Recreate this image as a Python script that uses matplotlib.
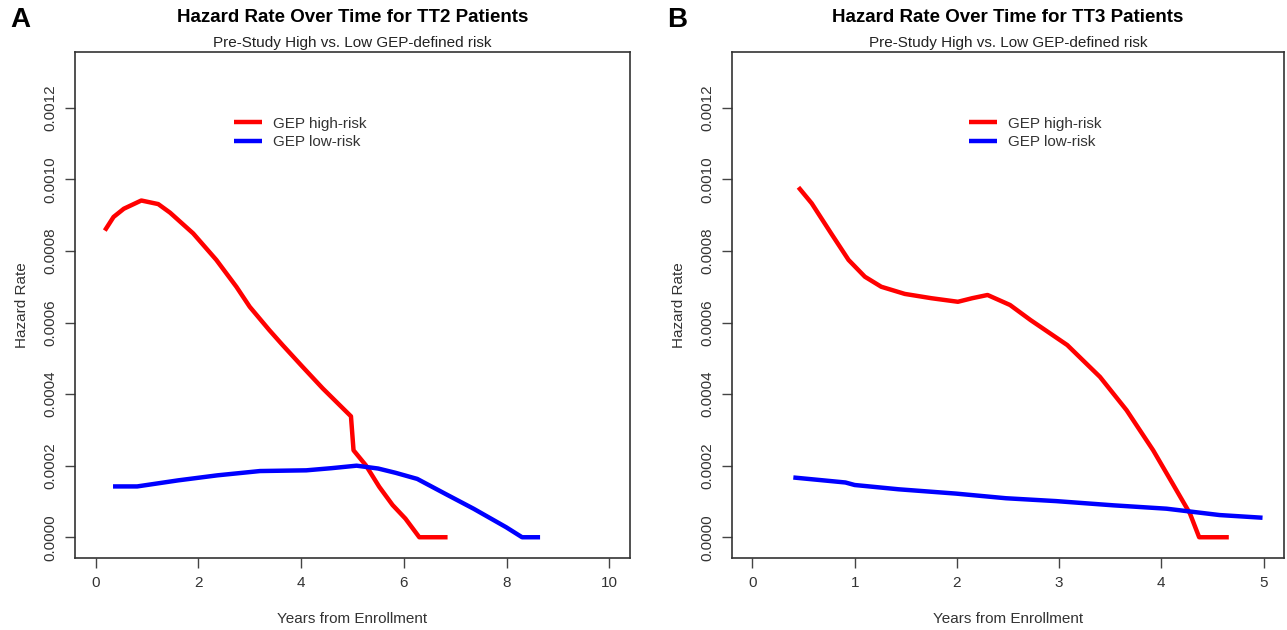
import matplotlib
matplotlib.use("Agg")
import matplotlib.pyplot as plt

plt.rcParams['font.family'] = ['Liberation Sans', 'DejaVu Sans']

# TT2 panel (A)
tt2_high_x = [0.18, 0.35, 0.55, 0.89, 1.22, 1.45, 1.90, 2.35, 2.74, 3.00, 3.38, 3.64, 4.03,
              4.42, 4.97, 5.02, 5.26, 5.52, 5.78, 6.03, 6.30, 6.85]
tt2_high_y = [0.000857, 0.000895, 0.000918, 0.000941, 0.000931, 0.000907, 0.000849, 0.000775,
              0.000700, 0.000644, 0.000579, 0.000537, 0.000476, 0.000416, 0.000338, 0.000243,
              0.000201, 0.000141, 0.000090, 0.000052, 0.0, 0.0]
tt2_low_x = [0.34, 0.81, 1.61, 2.37, 3.20, 4.10, 4.59, 5.08, 5.50, 5.84, 6.26, 6.81, 7.36,
             7.99, 8.30, 8.65]
tt2_low_y = [0.000142, 0.000142, 0.000159, 0.000173, 0.000185, 0.000187, 0.000193, 0.000200,
             0.000192, 0.000180, 0.000163, 0.000121, 0.0000794, 0.000028, 0.0, 0.0]

# TT3 panel (B)
tt3_high_x = [0.45, 0.58, 0.77, 0.94, 1.10, 1.26, 1.49, 1.75, 2.01, 2.15, 2.30, 2.52, 2.72,
              3.08, 3.40, 3.66, 3.92, 4.11, 4.28, 4.37, 4.66]
tt3_high_y = [0.000978, 0.000933, 0.000849, 0.000775, 0.000728, 0.000700, 0.000680, 0.000668,
              0.000658, 0.000668, 0.000677, 0.000649, 0.000607, 0.000537, 0.000448, 0.000355,
              0.000243, 0.000150, 0.0000663, 0.0, 0.0]
tt3_low_x = [0.40, 0.91, 1.00, 1.43, 1.99, 2.48, 2.97, 3.53, 4.05, 4.57, 4.99]
tt3_low_y = [0.000167, 0.000153, 0.000146, 0.000134, 0.000122, 0.000109, 0.000101, 0.0000892,
             0.0000798, 0.000062, 0.0000545]

y_ticks = [0.0, 0.0002, 0.0004, 0.0006, 0.0008, 0.0010, 0.0012]
y_labels = ["0.0000", "0.0002", "0.0004", "0.0006", "0.0008", "0.0010", "0.0012"]
tt2_xticks = [0, 2, 4, 6, 8, 10]
tt3_xticks = [0, 1, 2, 3, 4, 5]

W, H = 1287, 630
fig = plt.figure(figsize=(W / 100, H / 100), dpi=100)

def px_axes(l, r, t, b):
    return fig.add_axes([l / W, 1 - b / H, (r - l) / W, (b - t) / H])

panels = [
    (px_axes(75, 630, 52, 558), "A", "TT2", tt2_high_x, tt2_high_y, tt2_low_x, tt2_low_y,
     tt2_xticks, (-0.4, 10.4), (2.42, 0.00113)),
    (px_axes(732, 1284, 52, 558), "B", "TT3", tt3_high_x, tt3_high_y, tt3_low_x, tt3_low_y,
     tt3_xticks, (-0.2, 5.2), (1.98, 0.00113)),
]

for ax, letter, name, hx, hy, lx, ly, xt, xl, leg in panels:
    ax.plot(hx, hy, color="#ff0000", lw=3.2, solid_capstyle="butt", label="GEP high-risk")
    ax.plot(lx, ly, color="#0000ff", lw=3.2, solid_capstyle="butt", label="GEP low-risk")
    ax.set_xlim(*xl)
    ax.set_ylim(-0.000058, 0.001356)
    ax.set_xticks(xt)
    ax.set_xticklabels([str(v) for v in xt], fontsize=11, color="#333333")
    ax.set_yticks(y_ticks)
    ax.set_yticklabels(y_labels, fontsize=11, color="#333333", rotation=90, va="center")
    ax.tick_params(length=7, width=1, color="#444444", pad=6)
    for s in ax.spines.values():
        s.set_color("#333333")
        s.set_linewidth(1.2)
    ax.set_xlabel("Years from Enrollment", fontsize=11, color="#333333", labelpad=16)
    ax.set_ylabel("Hazard Rate", fontsize=11, color="#333333", labelpad=10)
    bb = ax.get_position()
    cx = bb.x0 + bb.width / 2
    fig.text(cx, 1 - 18 / H, "Hazard Rate Over Time for %s Patients" % name,
             ha="center", va="center", fontsize=13.5, fontweight="bold")
    fig.text(cx, 1 - 43 / H, "Pre-Study High vs. Low GEP-defined risk",
             ha="center", va="center", fontsize=11, color="#222222")
    fig.text(bb.x0 - 55 / W, 1 - 20 / H, letter, ha="center", va="center",
             fontsize=20, fontweight="bold")
    ax.legend(loc="center left", bbox_to_anchor=leg, bbox_transform=ax.transData,
              frameon=False, fontsize=11, handlelength=1.85, labelspacing=0.3,
              handletextpad=0.75, labelcolor="#333333")

fig.savefig("out.png", dpi=100)
